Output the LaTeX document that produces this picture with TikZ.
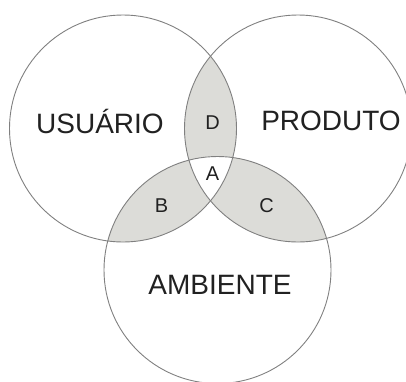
\documentclass[tikz,border=0pt]{standalone}
\usepackage{fontspec}
\setmainfont{Liberation Sans}
\begin{document}
\begin{tikzpicture}[x=1pt,y=-1pt,
  ring/.style={draw=black!50, line width=0.9pt},
  big/.style={font=\fontsize{28}{30}\selectfont, text=black!87},
  small/.style={font=\fontsize{20}{22}\selectfont, text=black!87}]
\definecolor{lens}{RGB}{220,220,216}
\useasboundingbox (0,0) rectangle (406,381);
\def\R{113.5}
\coordinate (cu) at (123,128.5);
\coordinate (cp) at (298,128.5);
\coordinate (ca) at (217.5,270);
% pairwise intersections
\begin{scope}
  \clip (cu) circle (\R);
  \fill[lens] (cp) circle (\R);
  \fill[lens] (ca) circle (\R);
\end{scope}
\begin{scope}
  \clip (cp) circle (\R);
  \fill[lens] (ca) circle (\R);
\end{scope}
\begin{scope}
  \clip (cu) circle (\R);
  \clip (cp) circle (\R);
  \fill[white] (ca) circle (\R);
\end{scope}
\draw[ring] (cu) circle (\R);
\draw[ring] (cp) circle (\R);
\draw[ring] (ca) circle (\R);
\node[big] (usuario) at (100,121) {USUÁRIO};
\node[big] (produto) at (331,121) {PRODUTO};
\node[big] (ambiente) at (220,285) {AMBIENTE};
\node[small] (d) at (212.5,122.5) {D};
\node[small] (a) at (212.5,174) {A};
\node[small] (b) at (161.5,206) {B};
\node[small] (c) at (266.5,206) {C};
\end{tikzpicture}
\end{document}
